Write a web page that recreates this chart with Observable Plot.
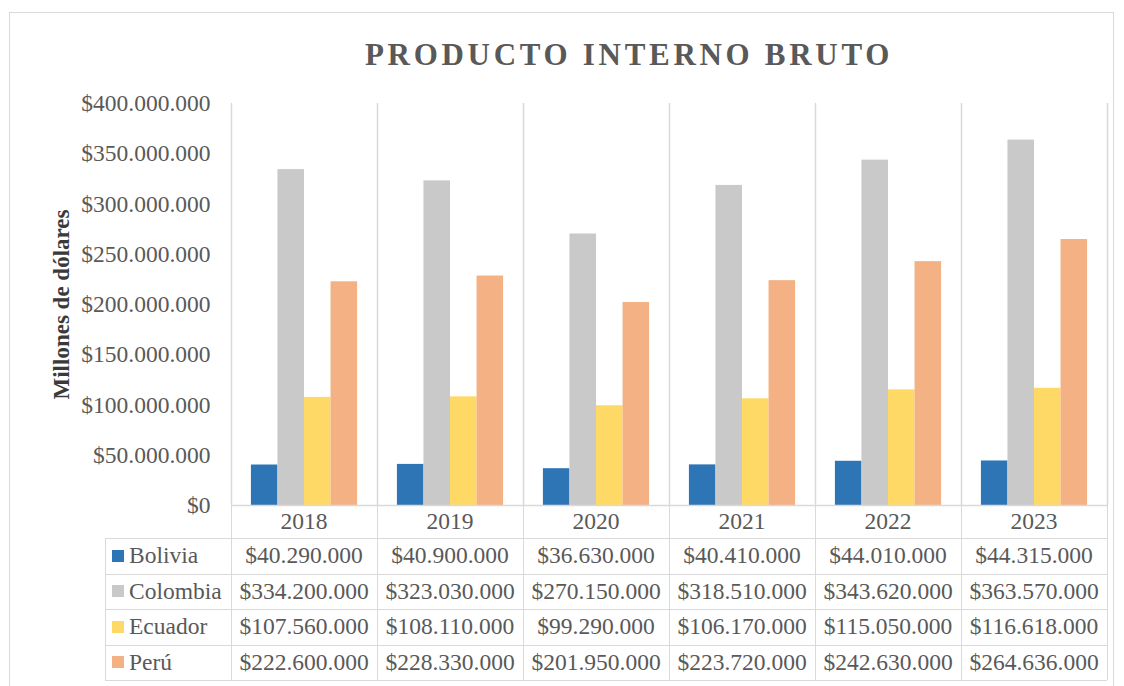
<!DOCTYPE html>
<html>
<head>
<meta charset="utf-8">
<script src="https://cdn.jsdelivr.net/npm/d3@7"></script>
<script src="https://cdn.jsdelivr.net/npm/@observablehq/plot@0.6"></script>
<style>
  html, body { margin: 0; padding: 0; background: #ffffff; }
  #wrap { position: relative; width: 1124px; height: 686px; overflow: hidden;
          font-family: "Liberation Serif", "Times New Roman", serif; }
  #frame { position: absolute; left: 9px; top: 12px; width: 1105px; height: 720px;
           border: 1.5px solid #d9d9d9; box-sizing: border-box; }
  #title { position: absolute; left: 0; top: 39px; width: 1258px; text-align: center;
           font-size: 31px; line-height: 31px; font-weight: bold; letter-spacing: 3.7px;
           color: #595959; white-space: nowrap; }
  #chart { position: absolute; left: 0; top: 0; }
  .cell { position: absolute; box-sizing: border-box; color: #595959; font-size: 23.5px;
          display: flex; align-items: center; justify-content: center; white-space: nowrap; }
  .hline { position: absolute; height: 0; border-top: 1.5px solid #d9d9d9; }
  .vline { position: absolute; width: 0; border-left: 1.5px solid #d9d9d9; }
  .sw { display: inline-block; width: 12px; height: 12px; margin-right: 5px; }
</style>
</head>
<body>
<div id="wrap">
  <div id="frame"></div>
  <div id="title">PRODUCTO INTERNO BRUTO</div>
  <div id="chart"></div>
  <div id="table"></div>
</div>
<script>
// ---- data ----
const years = ["2018", "2019", "2020", "2021", "2022", "2023"];
const countries = ["Bolivia", "Colombia", "Ecuador", "Perú"];
const bolivia  = [40290000, 40900000, 36630000, 40410000, 44010000, 44315000];
const colombia = [334200000, 323030000, 270150000, 318510000, 343620000, 363570000];
const ecuador  = [107560000, 108110000, 99290000, 106170000, 115050000, 116618000];
const peru     = [222600000, 228330000, 201950000, 223720000, 242630000, 264636000];
const colors   = ["#2E75B6", "#C9C9C9", "#FFD966", "#F4B183"];
const yTicks   = [0, 50000000, 100000000, 150000000, 200000000, 250000000, 300000000, 350000000, 400000000];
const yLabel   = "Millones de dólares";

const series = [bolivia, colombia, ecuador, peru];
const rows = countries.flatMap((c, i) => years.map((y, j) => ({country: c, year: y, value: series[i][j]})));
const fmt = v => "$" + d3.format(",")(v).replace(/,/g, ".");

// ---- layout ----
const W = 1124, H = 686, ML = 231, MR = 17, MT = 103, MB = 181;
const step = (W - ML - MR) / years.length;
const barW = step / 5.5;          // gap width 150%
const gap = barW * 0.75;
const grid = "#d9d9d9";

const marks = [];
marks.push(Plot.ruleX(years, {x: d => d, dx: -step / 2, y1: 0, y2: 400000000, stroke: grid, strokeWidth: 1.5}));
marks.push(Plot.ruleX([years[years.length - 1]], {x: d => d, dx: step / 2, y1: 0, y2: 400000000, stroke: grid, strokeWidth: 1.5}));
countries.forEach((c, i) => {
  marks.push(Plot.barY(rows.filter(d => d.country === c), {
    x: "year", y: "value", fill: colors[i],
    insetLeft: gap + i * barW, insetRight: gap + (countries.length - 1 - i) * barW
  }));
});
marks.push(Plot.ruleY([0], {stroke: grid, strokeWidth: 1.5}));
marks.push(Plot.text([yLabel], {text: d => d, frameAnchor: "left", dx: -170, rotate: -90,
  textAnchor: "middle", fontWeight: "bold", fontSize: 23, fill: "#3a3a3a"}));

const plot = Plot.plot({
  width: W, height: H,
  marginLeft: ML, marginRight: MR, marginTop: MT, marginBottom: MB,
  style: {fontFamily: "'Liberation Serif', 'Times New Roman', serif", fontSize: "23.5px", color: "#595959", background: "transparent", overflow: "visible"},
  x: {domain: years, padding: 0, axis: null},
  y: {domain: [0, 400000000], ticks: yTicks, tickFormat: fmt, tickSize: 0, tickPadding: 21, label: null},
  marks
});
document.getElementById("chart").appendChild(plot);

// ---- data table below the chart ----
const xs = plot.scale("x");
const table = document.getElementById("table");
const legendLeft = 105;
const yearTop = MT + (H - MT - MB); // 505
const yearH = 33, rowH = 35.5;
const tableBottom = yearTop + yearH + rowH * countries.length;
const colLeft = j => xs.apply(years[j]);
function add(cls, style, html) {
  const d = document.createElement("div");
  d.className = cls; Object.assign(d.style, style);
  if (html != null) d.innerHTML = html;
  table.appendChild(d);
  return d;
}
// year header
years.forEach((y, j) => add("cell", {left: colLeft(j) + "px", top: yearTop + "px", width: step + "px", height: yearH + "px"}, y));
// data rows
countries.forEach((c, i) => {
  const top = yearTop + yearH + i * rowH;
  add("cell", {left: legendLeft + "px", top: top + "px", width: (ML - legendLeft) + "px", height: rowH + "px",
    justifyContent: "flex-start", paddingLeft: "7px"},
    `<span class="sw" style="background:${colors[i]}"></span>${c}`);
  years.forEach((y, j) => add("cell", {left: colLeft(j) + "px", top: top + "px", width: step + "px", height: rowH + "px"},
    fmt(series[i][j])));
});
// grid lines
add("hline", {left: ML + "px", top: yearTop + "px", width: (W - ML - MR) + "px"});
for (let i = 0; i <= countries.length; i++) {
  const top = yearTop + yearH + i * rowH;
  add("hline", {left: legendLeft + "px", top: top + "px", width: (W - MR - legendLeft) + "px"});
}
add("vline", {left: legendLeft + "px", top: (yearTop + yearH) + "px", height: (rowH * countries.length) + "px"});
for (let j = 0; j <= years.length; j++) {
  const x = j < years.length ? colLeft(j) : colLeft(years.length - 1) + step;
  add("vline", {left: x + "px", top: yearTop + "px", height: (tableBottom - yearTop) + "px"});
}
</script>
</body>
</html>
